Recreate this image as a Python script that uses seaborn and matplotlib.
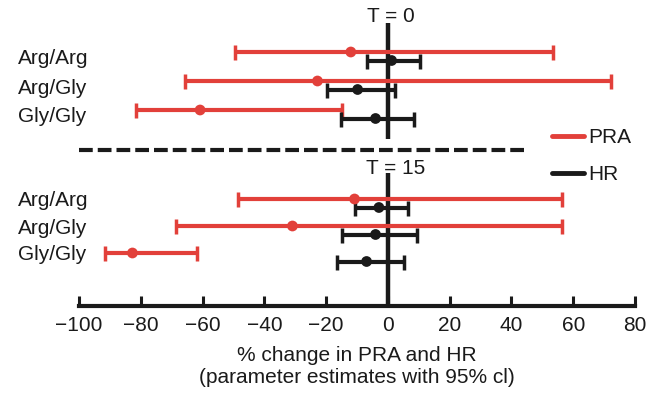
import matplotlib
matplotlib.use("Agg")
import matplotlib.pyplot as plt
import seaborn as sns
import pandas as pd

# values (% change, estimate with 95% cl)
genotypes = ["Arg/Arg", "Arg/Gly", "Gly/Gly"]
panels = ["T = 0", "T = 15"]

pra_est_t0 = [-12.0, -22.8, -60.8]
pra_lo_t0 = [-49.6, -65.7, -81.6]
pra_hi_t0 = [53.3, 72.3, -14.9]
hr_est_t0 = [1.2, -9.8, -4.0]
hr_lo_t0 = [-6.8, -19.6, -15.1]
hr_hi_t0 = [10.4, 2.3, 8.3]

pra_est_t15 = [-10.8, -30.9, -82.7]
pra_lo_t15 = [-48.6, -68.7, -91.7]
pra_hi_t15 = [56.3, 56.3, -61.7]
hr_est_t15 = [-2.9, -4.0, -6.9]
hr_lo_t15 = [-10.8, -14.9, -16.6]
hr_hi_t15 = [6.5, 9.4, 5.3]

RED = "#e2403a"
BLACK = "#1a1a1a"

sns.set_style("white")
plt.rcParams["font.family"] = ["Liberation Sans", "DejaVu Sans"]
plt.rcParams["font.size"] = 15
plt.rcParams["text.color"] = BLACK
plt.rcParams["axes.labelcolor"] = BLACK
plt.rcParams["xtick.color"] = BLACK

# build a long table
rows = []
est = {("PRA", 0): pra_est_t0, ("PRA", 1): pra_est_t15,
       ("HR", 0): hr_est_t0, ("HR", 1): hr_est_t15}
lo = {("PRA", 0): pra_lo_t0, ("PRA", 1): pra_lo_t15,
      ("HR", 0): hr_lo_t0, ("HR", 1): hr_lo_t15}
hi = {("PRA", 0): pra_hi_t0, ("PRA", 1): pra_hi_t15,
      ("HR", 0): hr_hi_t0, ("HR", 1): hr_hi_t15}

# vertical layout (axis units = pixels from top)
panel_top = [52, 199]
row_step = [29, 27]
hr_shift = 8.5
for p in range(2):
    for i, g in enumerate(genotypes):
        for m in ["PRA", "HR"]:
            y = panel_top[p] + i * row_step[p] + (hr_shift if m == "HR" else 0)
            rows.append(dict(panel=panels[p], genotype=g, measure=m, y=y,
                             est=est[(m, p)][i], lo=lo[(m, p)][i], hi=hi[(m, p)][i]))
df = pd.DataFrame(rows)

fig = plt.figure(figsize=(6.64, 3.95), dpi=100)
ax = fig.add_axes([79 / 664, (395 - 306) / 395, (635 - 79) / 664, 306 / 395])

# zero line in two pieces and the panel separator
ax.plot([0, 0], [23, 139], color=BLACK, lw=3.2, solid_capstyle="butt", zorder=1)
ax.plot([0, 0], [173, 306], color=BLACK, lw=3.2, solid_capstyle="butt", zorder=1)
ax.plot([-100, 44], [150, 150], color=BLACK, lw=3, ls=(0, (3.3, 1.2)), zorder=1)

palette = {"PRA": RED, "HR": BLACK}
for m in ["PRA", "HR"]:
    d = df[df.measure == m]
    ax.errorbar(d.est, d.y, xerr=[d.est - d.lo, d.hi - d.est], fmt="none",
                ecolor=palette[m], elinewidth=3, capsize=5.4, capthick=2.5, zorder=2)
sns.scatterplot(data=df, x="est", y="y", hue="measure", palette=palette,
                s=60, edgecolor="none", legend=False, ax=ax, zorder=3)

# genotype labels
label_shift = [12.5, 7.5]
for p in range(2):
    for i, g in enumerate(genotypes):
        ax.text(-119.7, panel_top[p] + i * row_step[p] + label_shift[p], g,
                ha="left", va="baseline", clip_on=False)

ax.text(1, 17, panels[0], ha="center", va="center")
ax.text(2.5, 168, panels[1], ha="center", va="center")

# legend
for name, yl in [("PRA", 136), ("HR", 173)]:
    ax.plot([53, 63.4], [yl, yl], color=palette[name], lw=3.5, solid_capstyle="round")
    ax.text(64.8, yl + 7, name, ha="left", va="baseline")

ax.set_xlim(-100, 80)
ax.set_ylim(306, 0)
ax.set_xticks(range(-100, 81, 20))
ax.set_xticklabels(["\u2212" + str(-v) if v < 0 else str(v) for v in range(-100, 81, 20)])
ax.set_yticks([])
ax.set_ylabel("")
ax.set_xlabel("% change in PRA and HR\n(parameter estimates with 95% cl)",
              linespacing=1.2, labelpad=8)
for s in ["top", "left", "right"]:
    ax.spines[s].set_visible(False)
ax.spines["bottom"].set_linewidth(3)
ax.spines["bottom"].set_color(BLACK)
ax.tick_params(axis="x", bottom=True, direction="in", length=7, width=2.2,
               color=BLACK, pad=7)
ax.patch.set_alpha(0)

fig.savefig("out.png", dpi=100)
